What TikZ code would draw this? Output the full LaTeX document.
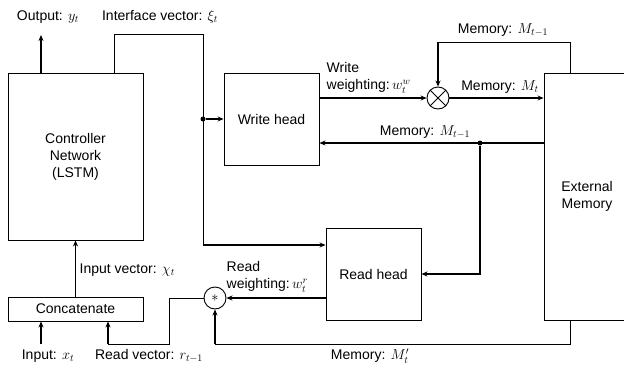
\documentclass[tikz,border=0pt]{standalone}
\usepackage{amsmath}
\usepackage{fontspec}
\setmainfont{Liberation Sans}
\usepackage{tikz}
\usetikzlibrary{arrows.meta,positioning,calc}

\begin{document}
\begin{tikzpicture}[x=1pt, y=-1pt,
    font=\fontsize{14}{17}\selectfont,
    block/.style={rectangle, draw, line width=0.9pt, text centered, align=center},
    op/.style={circle, draw, line width=0.9pt, minimum size=22pt, inner sep=0pt},
    wire/.style={line width=0.9pt},
    arrow/.style={line width=1.6pt, -{Stealth[length=6pt,width=5pt]}},
    dot/.style={circle, fill, inner sep=0pt, minimum size=5pt},
    lbl/.style={inner sep=0.5pt}
]
\useasboundingbox (0,0) rectangle (624,367);

% Blocks
\node[block, minimum width=135pt, minimum height=167pt] (ctrl) at (75.5,156.5) {Controller\\Network\\(LSTM)};
\node[block, minimum width=135pt, minimum height=24pt] (concat) at (75.5,309) {Concatenate};
\node[block, minimum width=95pt, minimum height=92pt] (write) at (271.5,119) {Write head};
\node[block, minimum width=95pt, minimum height=92pt] (read) at (373.5,274) {Read head};
\node[block, minimum width=86pt, minimum height=247pt] (mem) at (587,196.5) {External\\Memory};

% Operators
\node[op] (mult) at (438,98) {};
\draw[wire] (mult.north west) -- (mult.south east) (mult.north east) -- (mult.south west);
\node[op] (conv) at (215,298) {$*$};

% Junctions and free ends
\node[dot] (jint) at (203,119) {};
\node[dot] (jmem) at (480,143) {};
\coordinate (out) at (41,35);
\coordinate (in) at (41,344);
\coordinate (rdin) at (203,245);
\coordinate (mtop) at (438,42);
\coordinate (rv) at (108,344);

% Controller outputs
\draw[arrow] (ctrl.north -| out) -- (out);
\draw[wire] ($(ctrl.north west)+(107,0)$) -- ++(0,-38) -| (rdin);
\draw[arrow] (jint) -- (write.west);
\draw[arrow] (rdin) -- (rdin -| read.west);

% Write path
\draw[arrow] (write.east |- mult) -- (mult.west);
\draw[arrow] (mult.east) -- (mult -| mem.west);
\draw[wire] ($(mem.north west)+(27,0)$) |- (mtop);
\draw[arrow] (mtop) -- (mult.north);

% Read path
\draw[arrow] (mem.west |- jmem) -- (write.east |- jmem);
\draw[arrow] (jmem) |- (read.east);
\draw[arrow] (read.west |- conv) -- (conv.east);
\draw[wire] (conv.west) -- ++(-34,0) |- (rv);
\draw[arrow] (rv) -- (rv |- concat.south);
\draw[wire] ($(mem.south west)+(27,0)$) |- (conv |- in);
\draw[arrow] (conv |- in) -- (conv.south);

% Inputs
\draw[arrow] (in) -- (in |- concat.south);
\draw[arrow] (concat.north) -- (ctrl.south);

% Labels
\node[lbl] at (48,17) {Output: $y_t$};
\node[lbl] at (160,17) {Interface vector: $\xi_t$};
\node[lbl] at (503,30) {Memory: $M_{t-1}$};
\node[lbl, align=left, anchor=south west] at (326,94) {Write\\weighting:\,$w_t^w$};
\node[lbl] at (500,87) {Memory: $M_t$};
\node[lbl] at (425,132) {Memory: $M_{t-1}$};
\node[lbl, anchor=west] at (79,270) {Input vector: $\chi_t$};
\node[lbl, align=left, anchor=south west] at (226,293) {Read\\weighting:\,$w_t^r$};
\node[lbl] at (48,356) {Input: $x_t$};
\node[lbl] at (149,356) {Read vector: $r_{t-1}$};
\node[lbl] at (370,356) {Memory: $M'_t$};

\end{tikzpicture}
\end{document}
